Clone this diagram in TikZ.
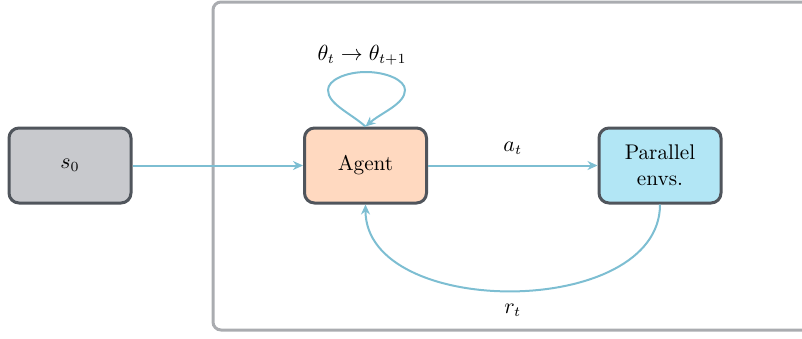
\documentclass[tikz,border=0pt]{standalone}
\usetikzlibrary{arrows.meta}
\definecolor{bordergray}{RGB}{80,85,92}
\definecolor{sfill}{RGB}{200,201,205}
\definecolor{agentfill}{RGB}{255,217,192}
\definecolor{envfill}{RGB}{178,230,245}
\definecolor{arrowblue}{RGB}{125,190,210}
\definecolor{outergray}{RGB}{170,172,176}
\begin{document}
\begin{tikzpicture}[x=0.5pt,y=-0.5pt,
  every node/.style={font=\fontsize{10.6}{13}\selectfont},
  boxnode/.style={draw=bordergray,line width=1.5pt,rounded corners=5pt,
    minimum width=61pt,minimum height=37.5pt,align=center,inner sep=2pt},
  conn/.style={draw=arrowblue,line width=1pt,-{Stealth[length=5pt,width=4.5pt]}},
  lbl/.style={inner sep=1pt}]
\useasboundingbox (0,0) rectangle (802,338);
\draw[outergray,line width=1.5pt,rounded corners=4pt] (213,2) rectangle (850,330);
\node[boxnode,fill=sfill] (s0) at (70,165.5) {$s_0$};
\node[boxnode,fill=agentfill] (agent) at (365.5,165.5) {Agent};
\node[boxnode,fill=envfill] (envs) at (660,165.5) {Parallel\\envs.};
\draw[conn] (s0.east) -- (agent.west);
\draw[conn] (agent.east) -- node[lbl,above=4pt] {$a_t$} (envs.west);
\coordinate (loopl) at (328,90);
\coordinate (loopt) at (366,72);
\coordinate (loopr) at (405,90);
\draw[conn] (agent.north) .. controls +(-16,-14) and +(0,14) .. (loopl)
  .. controls +(0,-10) and +(-20,0) .. (loopt)
  .. controls +(20,0) and +(0,-10) .. (loopr)
  .. controls +(0,14) and +(16,-14) .. (agent.north);
\node[lbl] (theta) at (362,55) {$\theta_t \rightarrow \theta_{t+1}$};
\draw[conn] (envs.south) to[out=-90,in=-90,looseness=1] node[lbl,below=5pt] {$r_t$} (agent.south);
\end{tikzpicture}
\end{document}
